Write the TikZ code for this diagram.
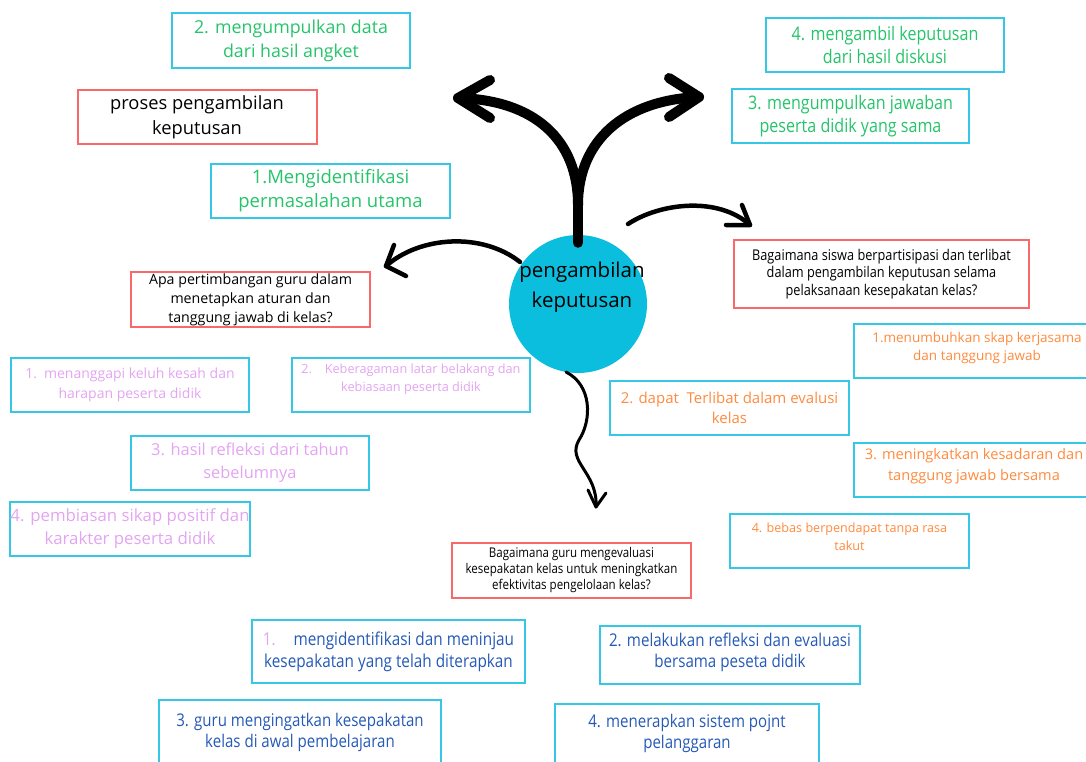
\documentclass[tikz,border=0pt]{standalone}
\usepackage{fontspec}
\setmainfont{Open Sans}
\newfontfamily\condfont{Open Sans}[FakeStretch=0.86]
\usepackage{xcolor}
\definecolor{cyanline}{HTML}{35C8E6}
\definecolor{redline}{HTML}{F86A6A}
\definecolor{greentxt}{HTML}{25C46A}
\definecolor{pinktxt}{HTML}{E3A4F2}
\definecolor{orangetxt}{HTML}{FF8A3D}
\definecolor{bluetxt}{HTML}{2459B6}
\definecolor{hubfill}{HTML}{0CBEDD}
\newcommand{\fsz}[2]{\fontsize{#1}{#2}\selectfont}

\begin{document}
\begin{tikzpicture}[x=1pt,y=-1pt,
  cbox/.style={draw=cyanline,line width=2pt,inner sep=0pt,align=center},
  rbox/.style={draw=redline,line width=2pt,inner sep=0pt,align=center},
  thickarrow/.style={line width=10pt,line cap=round,line join=round},
  thinarrow/.style={line width=4.5pt,line cap=round,line join=round}]
\useasboundingbox (0,0) rectangle (1086,762);
\clip (0,0) rectangle (1086,762);

% Centre
\node[circle,fill=hubfill,minimum size=138pt,inner sep=0pt] (hub) at (578,304) {};
\node[align=center,font=\fsz{20.5}{30}] (hubtext) at (582,287) {pengambilan\\keputusan};

% Process boxes (green)
\node[cbox,minimum width=238pt,minimum height=55pt,text=greentxt,font=\fsz{17.8}{24}] (data) at (291,40.5) {2. mengumpulkan data\\dari hasil angket};
\node[rbox,minimum width=239pt,minimum height=54pt,font=\fsz{18.3}{25}] (proses) at (197,117) {proses pengambilan\\keputusan};
\node[cbox,minimum width=239pt,minimum height=54pt,text=greentxt,font=\fsz{18.5}{24}] (ident) at (330.5,191) {1.Mengidentifikasi\\permasalahan utama};
\node[cbox,minimum width=238pt,minimum height=54pt,text=greentxt,font=\condfont\fsz{18.7}{23}] (ambil) at (885,45) {4. mengambil keputusan\\dari hasil diskusi};
\node[cbox,minimum width=237pt,minimum height=54pt,text=greentxt,font=\condfont\fsz{18.7}{23}] (jawab) at (850.5,116) {3. mengumpulkan jawaban\\peserta didik yang sama};

% Question boxes
\node[rbox,minimum width=295pt,minimum height=68pt,font=\condfont\fsz{14.8}{17.5}] (qsiswa) at (881.5,274) {Bagaimana siswa berpartisipasi dan terlibat\\dalam pengambilan keputusan selama\\pelaksanaan kesepakatan kelas?};
\node[rbox,minimum width=239pt,minimum height=55pt,font=\fsz{14.2}{19}] (qguru) at (250.5,299.5) {Apa pertimbangan guru dalam\\menetapkan aturan dan\\tanggung jawab di kelas?};
\node[rbox,minimum width=239pt,minimum height=55pt,font=\condfont\fsz{13.4}{16}] (qeval) at (571.5,570.5) {Bagaimana guru mengevaluasi\\kesepakatan kelas untuk meningkatkan\\efektivitas pengelolaan kelas?};

% Teacher considerations (pink)
\node[cbox,minimum width=238pt,minimum height=54pt,text=pinktxt,font=\fsz{14}{20},text depth=4pt] (keluh) at (130,385) {1.\enspace menanggapi keluh kesah dan\\harapan peserta didik};
\node[cbox,minimum width=238pt,minimum height=54pt,text=pinktxt,font=\fsz{12.7}{18},text depth=14pt] (ragam) at (411,385) {2.\quad Keberagaman latar belakang dan\\kebiasaan peserta didik};
\node[cbox,minimum width=238pt,minimum height=54pt,text=pinktxt,font=\fsz{16.4}{23}] (refleksi) at (250,463) {3. hasil refleksi dari tahun\\sebelumnya};
\node[cbox,minimum width=238pt,minimum height=54pt,text=pinktxt,font=\fsz{16.8}{23}] (positif) at (130,529) {4. pembiasan sikap positif dan\\karakter peserta didik};

% Student participation (orange)
\node[cbox,minimum width=246pt,minimum height=54pt,text=orangetxt,font=\fsz{13.5}{18},text depth=10pt] (kerja) at (977,351) {1.menumbuhkan skap kerjasama\\dan tanggung jawab};
\node[cbox,minimum width=239pt,minimum height=54pt,text=orangetxt,font=\fsz{15}{20}] (evalusi) at (729.5,408) {2. dapat\ \ Terlibat dalam evalusi\\kelas};
\node[cbox,minimum width=240pt,minimum height=54pt,text=orangetxt,font=\fsz{14.6}{21},text depth=12pt] (sadar) at (974,470) {3. meningkatkan kesadaran dan\\tanggung jawab bersama};
\node[cbox,minimum width=239pt,minimum height=54pt,text=orangetxt,font=\fsz{12.6}{18},text depth=8pt] (bebas) at (849.5,541) {4. bebas berpendapat tanpa rasa\\takut};

% Evaluation steps (blue)
\node[cbox,minimum width=273pt,minimum height=63pt,text=bluetxt,font=\condfont\fsz{17.8}{22}] (tinjau) at (388.5,651.5) {{\color{pinktxt}1.}\quad mengidentifikasi dan meninjau\\kesepakatan yang telah diterapkan};
\node[cbox,minimum width=260pt,minimum height=58pt,text=bluetxt,font=\condfont\fsz{17.6}{21},text depth=10pt] (bersama) at (730,655) {2. melakukan refleksi dan evaluasi\\bersama peseta didik};
\node[cbox,minimum width=282pt,minimum height=64pt,text=bluetxt,font=\condfont\fsz{17.5}{21}] (ingat) at (300,732) {3. guru mengingatkan kesepakatan\\kelas di awal pembelajaran};
\node[cbox,minimum width=264pt,minimum height=62pt,text=bluetxt,font=\condfont\fsz{17.5}{21},text depth=8pt] (poin) at (687,735) {4. menerapkan sistem pojnt\\pelanggaran};

% Arrows
\coordinate (fork) at (578,205);
\coordinate (lefttip) at (458,98);
\coordinate (righttip) at (699,97);
\draw[thickarrow] ([yshift=-8pt]hub.north) -- (fork);
\draw[thickarrow] (fork) .. controls (578,140) and (535,100) .. (lefttip);
\draw[thickarrow] (fork) .. controls (578,140) and (625,100) .. (righttip);
\draw[thickarrow] (lefttip) ++(32,-18) -- (lefttip) -- ++(32,20);
\draw[thickarrow] (righttip) ++(-30,-19) -- (righttip) -- ++(-30,20);

\coordinate (rstart) at (628,224);
\coordinate (rtip) at (750,225);
\draw[thinarrow] (rstart) .. controls (660,203) and (718,196) .. (rtip);
\draw[thinarrow] (rtip) ++(-8,-20) -- (rtip) -- ++(-24,0);

\coordinate (lstart) at (520,262);
\coordinate (ltip) at (386,266);
\draw[thinarrow] (lstart) .. controls (482,232) and (420,236) .. (ltip);
\draw[thinarrow] (ltip) ++(8,-21) -- (ltip) -- ++(20,10);

\coordinate (bstart) at (566,372);
\coordinate (bmid) at (579,440);
\coordinate (btip) at (596,507);
\draw[line width=3pt,line cap=round] (bstart) .. controls (592,385) and (592,420) .. (bmid) .. controls (566,462) and (598,472) .. (btip);
\draw[line width=3pt,line cap=round,line join=round] (btip) ++(-8,-17) -- (btip) -- ++(10,-14);
\end{tikzpicture}
\end{document}
